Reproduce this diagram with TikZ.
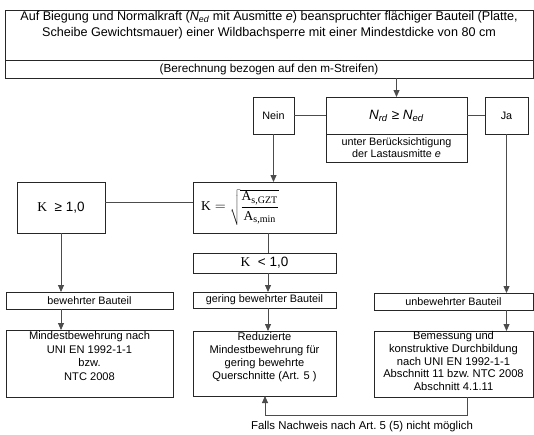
\documentclass[tikz,border=0pt]{standalone}
\usepackage{fontspec}
\setmainfont{Liberation Sans}
\newfontfamily\serif{Liberation Serif}
\usetikzlibrary{arrows.meta}
\tikzset{
  box/.style={draw=black!85, line width=0.7pt, inner sep=0pt, outer sep=0pt},
  conn/.style={draw=black!70, line width=0.8pt},
  arr/.style={conn, -{Triangle[width=6pt,length=7pt]}},
  txt/.style={inner sep=0pt, align=center, font=\fontsize{11}{13.5}\selectfont},
  small/.style={font=\fontsize{10.8}{12}\selectfont}
}
\newcommand{\sub}[1]{\textsubscript{#1}}
\begin{document}
\begin{tikzpicture}[x=1pt,y=-1pt]
\useasboundingbox[fill=white] (0,0) rectangle (534,434);
% top box
\node[box, minimum width=528, minimum height=50] (topA) at (269,35) {};
\node[box, minimum width=528, minimum height=18] (topB) at (269,69) {};
\node[txt, anchor=north, font=\fontsize{12.6}{16}\selectfont] (toptext) at (269,11)
  {Auf Biegung und Normalkraft (\textit{N}\sub{\textit{ed}} mit Ausmitte \textit{e}) beanspruchter flächiger Bauteil (Platte,\\
   Scheibe Gewichtsmauer) einer Wildbachsperre mit einer Mindestdicke von 80 cm};
\node[txt, font=\fontsize{11.7}{12}\selectfont] (berech) at (269,69) {(Berechnung bezogen auf den m-Streifen)};
% decision
\node[box, minimum width=141, minimum height=37, font=\fontsize{13.5}{15}\selectfont] (Nup) at (396.5,115.5)
  {\textit{N}\sub{\textit{rd}} ≥ \textit{N}\sub{\textit{ed}}};
\node[box, minimum width=141, minimum height=28, txt, small] (Nlow) at (396.5,148)
  {unter Berücksichtigung\\der Lastausmitte \textit{e}};
\node[box, minimum width=41, minimum height=37, small] (nein) at (273.5,115.5) {Nein};
\node[box, minimum width=43, minimum height=37, small] (ja) at (506.5,115.5) {Ja};
% K boxes
\node[box, minimum width=88, minimum height=51, font=\fontsize{13.5}{15}\selectfont] (Kge) at (61,207.5)
  {{\serif K}\ \ ≥ 1,0};
\node[box, minimum width=143, minimum height=51] (Keq) at (264.5,207.5) {};
\node[inner sep=0pt, anchor=west, font=\serif\fontsize{13.5}{15}\selectfont] (Kform) at (201,207.5)
  {$\hbox{K} = \sqrt{\displaystyle\frac{\hbox{A}_{\hbox{\fontsize{10}{10}\selectfont s,GZT}}}{\hbox{A}_{\hbox{\fontsize{10}{10}\selectfont s,min}}}}$};
\node[box, minimum width=143, minimum height=20, font=\fontsize{13.5}{15}\selectfont] (Klt) at (264.5,263)
  {{\serif K}\ \ < 1,0};
% category boxes
\node[box, minimum width=167, minimum height=17, small] (bew) at (89.5,300.5) {bewehrter Bauteil};
\node[box, minimum width=143, minimum height=16, small] (gering) at (264.5,300) {gering bewehrter Bauteil};
\node[box, minimum width=159, minimum height=17, small] (unbew) at (453.5,301.5) {unbewehrter Bauteil};
% result boxes
\node[box, minimum width=167, minimum height=67] (mind) at (89.5,363.5) {};
\node[txt, anchor=north, font=\fontsize{11.1}{13.8}\selectfont] (mindtext) at (89.5,331)
  {Mindestbewehrung nach\\UNI EN 1992-1-1\\bzw.\\NTC 2008};
\node[box, minimum width=143, minimum height=65] (reduz) at (264.5,363.5) {};
\node[txt, anchor=north, font=\fontsize{11.1}{13}\selectfont] (reduztext) at (264.5,332)
  {Reduzierte\\Mindestbewehrung für\\gering bewehrte\\Querschnitte (Art. 5 )};
\node[box, minimum width=159, minimum height=66] (bem) at (453.5,364) {};
\node[txt, anchor=north, font=\fontsize{11.2}{12.7}\selectfont] (bemtext) at (453.5,331.5)
  {Bemessung und\\konstruktive Durchbildung\\nach UNI EN 1992-1-1\\Abschnitt 11 bzw.\ NTC 2008\\Abschnitt 4.1.11};
\node[txt, font=\fontsize{11.4}{13}\selectfont] (falls) at (362,427) {Falls Nachweis nach Art.\ 5 (5) nicht möglich};
% helper coordinates
\coordinate (kline) at (0,202);
\coordinate (colL) at (61,0);
\coordinate (colM) at (268,0);
\coordinate (fb1) at (467,0);
\coordinate (fb2) at (265,0);
\coordinate (fbline) at (0,415);
% connectors
\draw[arr] (Nup.north |- topB.south) -- (Nup.north);
\draw[conn] (nein.east) -- (Nup.west);
\draw[conn] (Nup.east) -- (ja.west);
\draw[arr] (nein.south) -- (nein.south |- Keq.north);
\draw[arr] (ja.south) -- (ja.south |- unbew.north);
\draw[conn] (Keq.west |- kline) -- (Kge.east |- kline);
\draw[arr] (Kge.south) -- (Kge.south |- bew.north);
\draw[conn] (Keq.south -| colM) -- (Klt.north -| colM);
\draw[arr] (Klt.south -| colM) -- (gering.north -| colM);
\draw[arr] (gering.south -| colM) -- (reduz.north -| colM);
\draw[arr] (bew.south -| colL) -- (mind.north -| colL);
\draw[arr] (unbew.south -| ja.south) -- (bem.north -| ja.south);
\draw[arr] (bem.south -| fb1) -- (fb1 |- fbline) -- (fb2 |- fbline) -- (reduz.south -| fb2);
\end{tikzpicture}
\end{document}
